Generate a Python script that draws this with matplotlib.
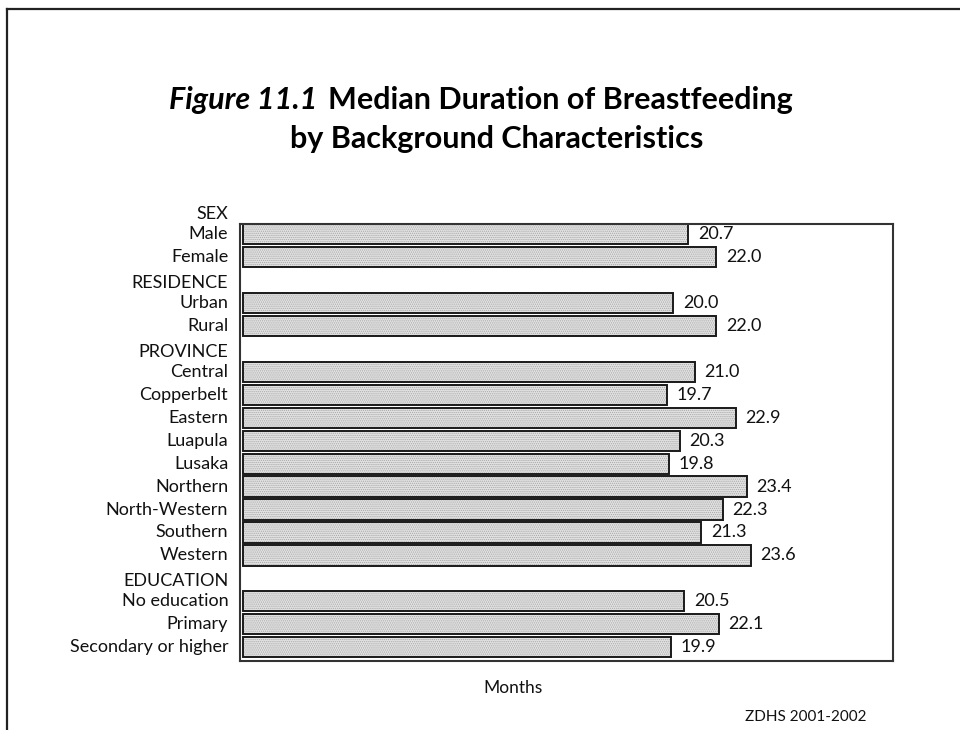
import matplotlib
matplotlib.use("Agg")
import matplotlib.pyplot as plt
from matplotlib.lines import Line2D
import numpy as np

plt.rcParams['font.family'] = ['Lato', 'DejaVu Sans']
plt.rcParams['hatch.linewidth'] = 0.6

# rows top to bottom; None marks a group header row
row_labels = ["SEX", "Male", "Female",
              "RESIDENCE", "Urban", "Rural",
              "PROVINCE", "Central", "Copperbelt", "Eastern", "Luapula", "Lusaka",
              "Northern", "North-Western", "Southern", "Western",
              "EDUCATION", "No education", "Primary", "Secondary or higher"]
months = [None, 20.7, 22.0,
          None, 20.0, 22.0,
          None, 21.0, 19.7, 22.9, 20.3, 19.8, 23.4, 22.3, 21.3, 23.6,
          None, 20.5, 22.1, 19.9]

fig = plt.figure(figsize=(9.6, 7.3), dpi=100)
ax = fig.add_axes([0.25, 0.0945, 0.68, 0.5987])

ypos = np.arange(len(row_labels))
bar_y = [y for y, v in zip(ypos, months) if v is not None]
bar_v = [v for v in months if v is not None]

# dotted fill, then a black outline on top
ax.barh(bar_y, bar_v, height=0.88, color="#e2e2e2", edgecolor="#a8a8a8",
        hatch="........", linewidth=0)
ax.barh(bar_y, bar_v, height=0.88, fill=False, edgecolor="#1a1a1a", linewidth=1.4)

for y, v in zip(bar_y, bar_v):
    ax.annotate(f"{v:.1f}", (v, y), xytext=(7, 0), textcoords="offset points",
                va="center", ha="left", fontsize=13, color="#111111")

for y, lab, v in zip(ypos, row_labels, months):
    dy = 0.12 if v is None else 0
    ax.text(-0.018, y + dy, lab, transform=ax.get_yaxis_transform(),
            ha="right", va="center", fontsize=13, color="#111111", clip_on=False)

ax.set_xlim(-0.15, 30.2)
ax.set_ylim(19.6, 0.56)
ax.set_xticks([])
ax.set_yticks([])
for s in ax.spines.values():
    s.set_color("#333333")
    s.set_linewidth(1.5)

# title
fig.text(0.331, 0.85, "Figure 11.1", ha="right", va="baseline",
         fontsize=22, fontweight="bold", style="italic")
fig.text(0.342, 0.85, "Median Duration of Breastfeeding", ha="left", va="baseline",
         fontsize=22, fontweight="bold")
fig.text(0.517, 0.797, "by Background Characteristics", ha="center", va="baseline",
         fontsize=22, fontweight="bold")

fig.text(0.534, 0.057, "Months", ha="center", va="center", fontsize=12.5, color="#111111")
fig.text(0.776, 0.018, "ZDHS 2001-2002", ha="left", va="center", fontsize=11, color="#111111")

# page frame (top and left edges)
fig.add_artist(Line2D([0.0073, 1.0], [0.9877, 0.9877], transform=fig.transFigure,
                      color="#222222", linewidth=1.6))
fig.add_artist(Line2D([0.0073, 0.0073], [0.0, 0.9877], transform=fig.transFigure,
                      color="#222222", linewidth=1.6))

fig.savefig("out.png", dpi=100)
